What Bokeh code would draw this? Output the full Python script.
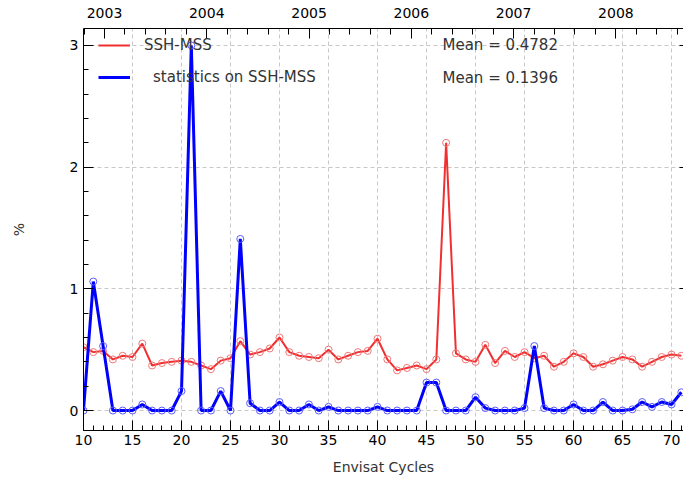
from datetime import date
from bokeh.plotting import figure
from bokeh.models import (LinearAxis, Range1d, FixedTicker, Legend, LegendItem,
                          Label, Grid, PrintfTickFormatter, CustomJSTickFormatter)
from bokeh.embed import file_html
from bokeh.resources import INLINE

# ---------------- data ----------------
cycles = list(range(10, 72))
ssh_mss = [0.52, 0.48, 0.49, 0.42, 0.45, 0.44, 0.55, 0.37, 0.39, 0.40,
           0.41, 0.40, 0.37, 0.34, 0.41, 0.43, 0.57, 0.46, 0.48, 0.51,
           0.60, 0.48, 0.45, 0.44, 0.43, 0.50, 0.42, 0.45, 0.48, 0.49,
           0.59, 0.42, 0.33, 0.35, 0.37, 0.34, 0.42, 2.20, 0.47, 0.42,
           0.40, 0.54, 0.39, 0.49, 0.44, 0.48, 0.43, 0.45, 0.36, 0.40,
           0.47, 0.44, 0.36, 0.38, 0.41, 0.44, 0.42, 0.36, 0.40, 0.44,
           0.46, 0.45]
stats_ssh_mss = [0.00, 1.06, 0.53, 0.00, 0.00, 0.00, 0.05, 0.00, 0.00, 0.00,
                 0.16, 3.00, 0.00, 0.00, 0.16, 0.00, 1.41, 0.06, 0.00, 0.00,
                 0.07, 0.00, 0.00, 0.05, 0.00, 0.03, 0.00, 0.00, 0.00, 0.00,
                 0.03, 0.00, 0.00, 0.00, 0.00, 0.23, 0.23, 0.00, 0.00, 0.00,
                 0.11, 0.02, 0.00, 0.00, 0.00, 0.02, 0.53, 0.02, 0.00, 0.00,
                 0.05, 0.00, 0.00, 0.07, 0.00, 0.00, 0.01, 0.07, 0.03, 0.07,
                 0.05, 0.15]
series_labels = ["SSH-MSS", "statistics on SSH-MSS"]
mean_labels = ["Mean = 0.4782", "Mean = 0.1396"]
x_major = list(range(10, 71, 5))
x_minor = list(range(10, 72))
x_grid = list(range(15, 71, 5))
y_major = [0, 1, 2, 3]
y_minor = [round(-0.2 + 0.2 * i, 2) for i in range(18)]
years = [2003, 2004, 2005, 2006, 2007, 2008]

# time mapping: Envisat cycles are 35 days long
cycle10_start = date(2002, 10, 18)
cycle_len = 35.0
X0, X1 = 10, 71.22


def cycle_to_year(c):
    d0 = (date(2003, 1, 1) - cycle10_start).days
    days = (c - 10) * cycle_len - d0
    return 2003 + days / 365.25


year_minor = [round(2002 + 0.2 * i, 2) for i in range(40)]

FONT = "DejaVu Sans"
RED = "#f03030"
RED_M = "#f07878"
BLUE = "#0000ff"
BLUE_M = "#5c5cff"

p = figure(width=683, height=481, x_range=Range1d(X0, X1), y_range=Range1d(-0.164, 3.139),
           output_backend="svg", toolbar_location=None,
           x_axis_location=None, y_axis_location=None,
           min_border_left=83, min_border_right=0, min_border_top=28, min_border_bottom=51)
p.outline_line_color = None
p.background_fill_color = "white"
p.border_fill_color = "white"
for g in p.grid:
    g.visible = False

p.extra_x_ranges = {"years": Range1d(cycle_to_year(X0), cycle_to_year(X1))}


def style_axis(ax, tin, min_in):
    ax.axis_line_color = "black"
    ax.axis_line_width = 1
    ax.major_tick_in = tin
    ax.major_tick_out = 0
    ax.minor_tick_in = min_in
    ax.minor_tick_out = 0
    ax.major_tick_line_color = "black"
    ax.minor_tick_line_color = "black"
    ax.major_label_text_font = FONT
    ax.major_label_text_font_size = "14px"
    ax.major_label_text_color = "black"
    ax.axis_label_text_font = FONT
    ax.axis_label_text_font_size = "14px"
    ax.axis_label_text_font_style = "normal"
    ax.axis_label_text_color = "#333333"


bottom = LinearAxis(ticker=FixedTicker(ticks=x_major, minor_ticks=x_minor),
                    axis_label="Envisat Cycles")
style_axis(bottom, 10, 5)
bottom.major_label_standoff = 4
bottom.axis_label_standoff = 11
p.add_layout(bottom, "below")

top = LinearAxis(x_range_name="years",
                 ticker=FixedTicker(ticks=years, minor_ticks=year_minor),
                 formatter=PrintfTickFormatter(format="%d"))
style_axis(top, 10, 6)
top.major_label_standoff = 11
top.major_label_text_font_style = "normal"
p.add_layout(top, "above")

left = LinearAxis(ticker=FixedTicker(ticks=y_major, minor_ticks=y_minor),
                  axis_label="%")
style_axis(left, 10, 5)
left.major_label_standoff = 5
left.axis_label_standoff = 40
p.add_layout(left, "left")

right = LinearAxis(ticker=FixedTicker(ticks=y_major, minor_ticks=[]),
                   formatter=CustomJSTickFormatter(code="return ''"))
style_axis(right, 4, 0)
right.axis_line_color = None
right.major_label_standoff = 0
p.add_layout(right, "right")

gx = Grid(dimension=0, ticker=FixedTicker(ticks=x_grid), grid_line_color="#c8c8c8",
          grid_line_dash="4 3", grid_line_width=1)
gy = Grid(dimension=1, ticker=FixedTicker(ticks=y_major), grid_line_color="#c8c8c8",
          grid_line_dash="4 3", grid_line_width=1)
p.add_layout(gx)
p.add_layout(gy)

r_line = p.line(cycles, ssh_mss, line_color=RED, line_width=2)
p.scatter(cycles, ssh_mss, marker="circle", size=7, fill_color=None,
          line_color=RED_M, line_width=1)
b_line = p.line(cycles, stats_ssh_mss, line_color=BLUE, line_width=3)
p.scatter(cycles, stats_ssh_mss, marker="circle", size=7, fill_color=None,
          line_color=BLUE_M, line_width=1)


def make_legend(label, rend, loc, standoff):
    return Legend(items=[LegendItem(label=label, renderers=[rend])], location=loc,
                  border_line_color=None, background_fill_alpha=0,
                  glyph_width=32, glyph_height=20, label_height=20, padding=0, margin=0,
                  spacing=0, label_standoff=standoff, label_text_font=FONT,
                  label_text_font_size="15px", label_text_color="#333333")


p.add_layout(make_legend(series_labels[0], r_line, (15, 375), 14))
p.add_layout(make_legend(series_labels[1], b_line, (15, 343), 23))

for txt, yv in zip(mean_labels, [3.0, 2.736]):
    p.add_layout(Label(x=46.63, y=yv, text=txt, text_baseline="middle", text_align="left",
                       text_font=FONT, text_font_size="15px", text_color="#333333"))

open("out.html", "w").write(file_html(p, INLINE))
